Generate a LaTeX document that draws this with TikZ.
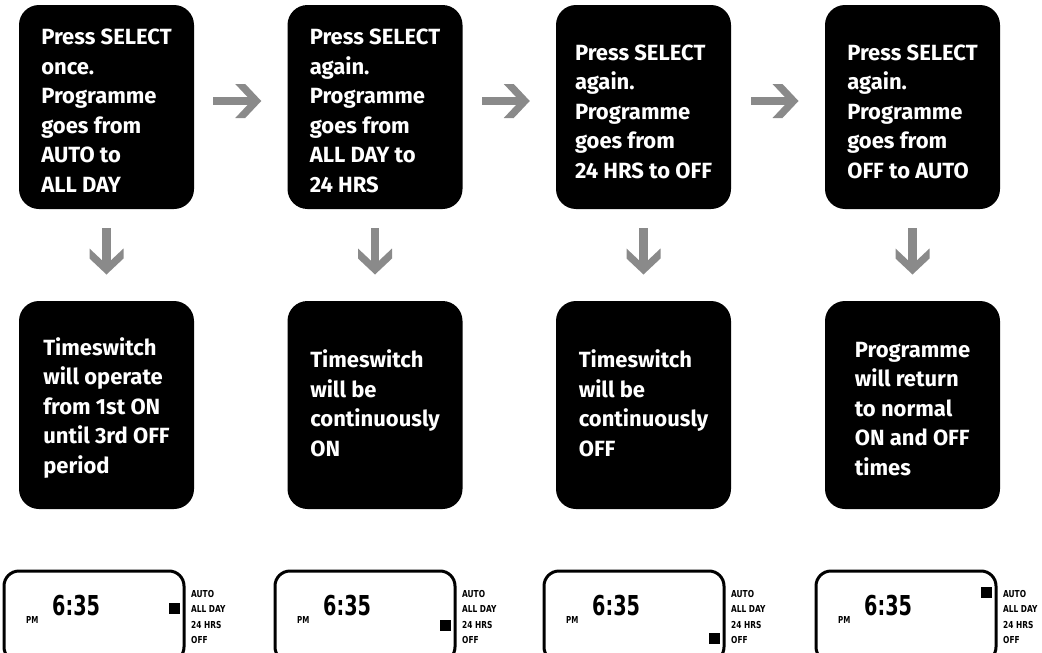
\documentclass[tikz,border=0pt]{standalone}
\usepackage{fontspec}
\usepackage{graphicx}
\setmainfont{Fira Sans}
\newfontfamily\lcdfont{DejaVu Sans Condensed}
\usetikzlibrary{calc}
\definecolor{arrowgray}{RGB}{138,138,138}
\newcommand{\topgap}[1]{\rule{0pt}{#1}}
\newcommand{\botgap}[1]{\rule[-#1]{0pt}{#1}}
\tikzset{
  stepbox/.style={fill=black, rounded corners=20pt, text=white, align=left,
    inner sep=0pt, minimum width=175pt,
    font=\bfseries\fontsize{22}{29.5}\selectfont},
  topbox/.style={stepbox, minimum height=204pt},
  botbox/.style={stepbox, minimum height=208pt},
  rarrow/.pic={
    \fill[arrowgray] (-48,-4.2) rectangle (-8,4.2);
    \fill[arrowgray] (-26,-17)--(-16,-17)--(0,0)--(-16,17)--(-26,17)--(-10,0)--cycle;
  },
  darrow/.pic={
    \fill[arrowgray] (-4.3,-47) rectangle (4.3,-8);
    \fill[arrowgray] (-17,-26)--(0,-10)--(17,-26)--(17,-16)--(0,0)--(-17,-16)--cycle;
  },
  lcd/.style={draw, line width=3pt, rounded corners=15pt, minimum width=180pt,
    minimum height=91pt, inner sep=0pt},
  lcdtxt/.style={anchor=base west, inner sep=0pt, font=\lcdfont\bfseries},
}
\begin{document}
\begin{tikzpicture}[x=1pt,y=-1pt]
\useasboundingbox (0,0) rectangle (1042,653);
\clip (0,0) rectangle (1042,653);

% top row
\node[topbox] (t1) at (106.5,107) {\topgap{23pt}Press SELECT\\once.\\Programme\\goes from\\AUTO to\\ALL DAY};
\node[topbox] (t2) at (375,107) {\topgap{23pt}Press SELECT\\again.\\Programme\\goes from\\ALL DAY to\\24 HRS};
\node[topbox] (t3) at (643.5,107) {\topgap{25pt}Press SELECT\\again.\\Programme\\goes from\\24 HRS to OFF};
\node[topbox] (t4) at (912.5,107) {\topgap{25pt}Press SELECT\\again.\\Programme\\goes from\\OFF to AUTO};

% bottom row
\node[botbox] (b1) at (106.5,405) {\topgap{23pt}Timeswitch\\will operate\\from 1st ON\\until 3rd OFF\\period};
\node[botbox] (b2) at (375,405) {Timeswitch\\will be\\continuously\\ON\botgap{4pt}};
\node[botbox] (b3) at (643.5,405) {Timeswitch\\will be\\continuously\\OFF\botgap{4pt}};
\node[botbox] (b4) at (912.5,405) {\topgap{23pt}Programme\\will return\\to normal\\ON and OFF\\times};

% right arrows
\path ($(t1.east)!0.5!(t2.west)+(20.5,-6)$) pic {rarrow};
\path ($(t2.east)!0.5!(t3.west)+(20.5,-6)$) pic {rarrow};
\path ($(t3.east)!0.5!(t4.west)+(20.5,-6)$) pic {rarrow};

% down arrows
\foreach \i in {1,2,3,4}{
  \path ($(t\i.south)!0.5!(b\i.north)+(0,19.5)$) pic {darrow};
}

% LCD displays
\foreach \i/\x/\sq in {1/4/608.5, 2/275/625, 3/544/638.5, 4/816/592.5}{
  \node[lcd] (l\i) at (\x+90,616.5) {};
  \node[lcdtxt] (clk\i) at (\x+48,615) {\fontsize{27.4}{28}\selectfont\scalebox{0.78}[1]{6:35}};
  \node[lcdtxt] (pm\i) at (\x+22,623) {\fontsize{9.6}{10}\selectfont\scalebox{0.82}[1]{PM}};
  \fill (\x+165,\sq-5.5) rectangle ++(11,11);
  \node[lcdtxt] (auto\i) at (\x+187,597) {\fontsize{9.6}{10}\selectfont\scalebox{0.86}[1]{AUTO}};
  \node[lcdtxt] (allday\i) at (\x+187,612.5) {\fontsize{9.6}{10}\selectfont\scalebox{0.86}[1]{ALL DAY}};
  \node[lcdtxt] (hrs\i) at (\x+187,628) {\fontsize{9.6}{10}\selectfont\scalebox{0.86}[1]{24 HRS}};
  \node[lcdtxt] (off\i) at (\x+187,643.3) {\fontsize{9.6}{10}\selectfont\scalebox{0.86}[1]{OFF}};
}
\end{tikzpicture}
\end{document}
